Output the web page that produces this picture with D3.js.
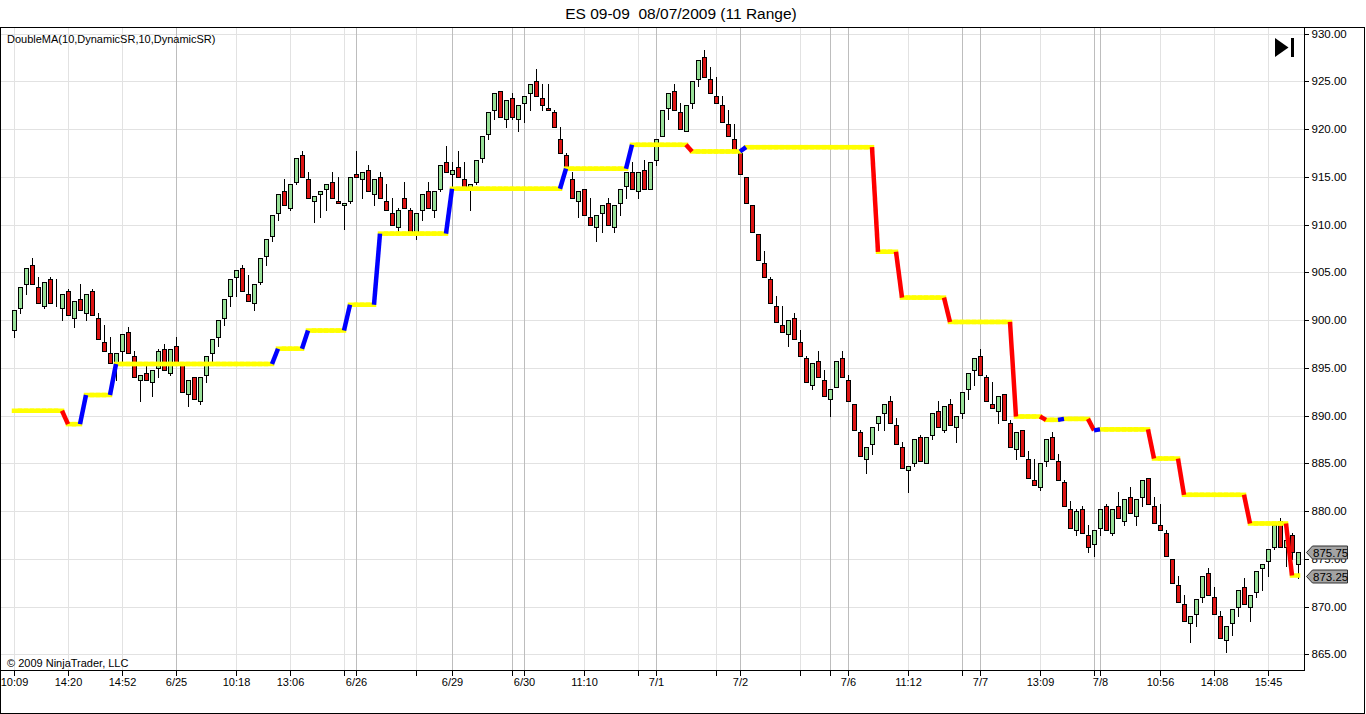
<!DOCTYPE html>
<html><head><meta charset="utf-8">
<script src="https://cdn.jsdelivr.net/npm/d3@7"></script>
<style>body{margin:0;background:#fff;overflow:hidden}svg{display:block;font-family:Arial,"Liberation Sans",sans-serif}</style>
</head><body><svg id="c" width="1366" height="714"></svg>
<script>
const opens=[
899.0,901.25,903.75,905.75,903.5,901.5,904.25,901.5,901.25,903.0,
900.25,902.25,900.75,903.0,900.25,897.75,896.5,895.5,896.75,898.75,
896.25,893.75,894.5,893.5,895.0,897.0,894.5,897.25,895.5,892.25,
894.0,891.5,894.25,896.5,898.25,900.25,902.5,904.5,905.5,902.75,
901.75,904.0,906.75,908.75,911.25,913.5,911.75,914.5,917.25,914.75,
912.5,913.25,913.75,914.5,912.5,912.0,912.5,915.25,914.75,915.75,
913.25,915.0,912.5,911.25,909.75,912.75,911.5,909.25,911.5,913.5,
911.5,913.75,916.5,915.25,916.0,914.75,913.75,914.5,917.0,919.5,
922.0,924.0,921.0,923.25,921.0,922.75,923.75,925.0,923.25,922.25,
921.75,919.0,917.25,914.75,912.5,913.75,910.75,909.75,911.25,912.25,
909.75,912.25,914.0,915.5,913.5,915.75,913.75,916.75,919.25,922.25,
924.0,921.75,919.75,922.75,925.25,927.5,925.25,923.5,922.5,920.5,
919.0,917.5,915.0,912.0,909.0,906.0,904.25,901.5,899.5,898.5,
900.25,897.75,896.0,893.25,895.75,893.75,891.75,893.0,896.0,893.75,
891.25,888.25,885.5,887.0,889.25,890.25,891.5,889.0,886.75,884.25,
885.0,887.75,885.0,888.0,890.5,888.5,891.25,888.75,890.25,892.75,
894.75,896.25,894.0,891.25,890.5,892.25,889.25,886.5,888.5,885.5,
883.25,882.5,885.25,887.75,885.25,883.0,880.25,878.0,880.25,877.5,
876.5,878.25,880.5,877.75,880.5,879.0,881.5,879.5,881.5,883.5,
880.5,878.5,877.75,875.0,872.25,870.25,868.25,869.25,871.0,873.5,
871.0,869.0,866.5,868.25,870.0,872.0,870.0,871.5,874.0,874.75,
876.25,879.0,876.25,877.5,874.5];
const highs=[
901.0,903.5,905.5,906.5,904.5,904.0,904.5,904.25,902.75,903.25,
902.0,903.75,902.75,903.25,900.75,899.5,898.25,896.5,898.5,899.25,
896.75,894.25,895.5,894.75,897.0,897.5,897.0,898.25,895.5,893.75,
894.0,894.0,896.25,898.0,900.0,902.25,904.25,905.25,905.75,904.75,
903.75,906.5,908.5,911.0,913.25,914.75,914.25,917.0,917.75,915.5,
913.0,913.5,914.25,915.5,915.0,912.25,915.0,917.75,915.5,916.25,
914.75,915.5,914.25,912.75,911.75,914.5,911.75,911.25,913.25,914.5,
913.5,916.25,918.25,916.5,917.75,916.5,914.25,916.75,919.25,921.75,
923.75,924.0,923.0,923.75,922.5,923.5,924.75,926.25,924.75,924.75,
922.0,920.25,917.5,915.5,913.5,913.75,912.75,911.0,912.0,912.75,
912.0,913.75,915.5,916.5,915.5,916.75,916.5,919.0,922.0,923.75,
924.75,922.75,922.5,925.0,927.25,928.25,926.5,925.5,923.5,922.0,
920.5,917.75,915.0,912.0,909.0,907.25,904.5,902.5,901.5,900.0,
900.75,899.0,896.25,895.5,896.75,894.75,892.75,895.75,896.75,894.25,
891.25,888.5,886.75,888.75,890.0,891.25,892.0,889.75,887.25,884.75,
887.5,888.0,887.75,890.25,891.5,891.0,891.75,890.0,892.5,894.5,
896.0,897.0,894.25,893.5,892.0,892.25,889.5,888.25,888.5,886.25,
885.5,885.0,887.5,888.25,886.0,883.25,881.0,880.25,880.5,878.5,
878.0,880.25,880.75,880.25,882.0,881.25,882.5,881.25,883.25,883.5,
881.5,880.75,878.0,875.0,873.25,871.25,869.0,870.75,873.25,874.0,
872.0,869.5,868.0,869.75,871.75,873.0,871.25,873.75,874.5,876.0,
878.5,879.25,877.25,877.75,875.75];
const lows=[
898.25,900.75,902.75,903.75,901.75,901.25,901.75,901.5,900.0,900.5,
899.25,901.0,900.0,900.5,898.0,896.75,895.5,893.75,895.75,896.5,
894.0,891.5,893.75,892.0,894.0,894.75,894.25,895.25,892.5,891.0,
891.75,891.25,893.5,895.5,897.25,899.5,901.5,902.5,903.0,902.0,
901.0,903.75,905.75,908.25,910.5,912.0,911.5,914.25,915.0,912.75,
910.25,910.75,911.5,912.75,912.25,909.5,912.25,915.0,912.75,913.5,
912.0,912.75,911.5,910.0,909.25,911.75,909.0,908.5,910.5,911.75,
910.75,913.5,915.5,913.75,915.0,913.75,911.5,914.25,916.5,919.0,
921.0,921.25,920.25,921.0,919.75,920.75,922.0,923.5,922.0,922.0,
920.25,917.5,915.75,912.75,910.75,911.0,910.0,908.25,909.25,910.0,
909.25,911.0,912.75,913.75,912.75,913.75,913.75,916.25,919.25,921.0,
922.0,920.0,919.75,922.25,924.5,925.5,923.75,922.75,920.75,919.25,
917.75,915.25,912.25,909.25,906.25,904.5,901.75,899.75,898.75,897.25,
898.0,896.25,893.5,892.75,894.0,892.0,890.0,893.0,894.0,891.5,
888.5,885.75,884.0,886.0,888.5,888.5,889.25,887.0,884.5,882.0,
884.75,885.25,885.0,887.5,888.75,888.25,889.0,887.25,889.75,891.75,
893.25,894.25,891.5,890.75,889.25,889.5,886.75,885.5,885.75,883.5,
882.75,882.25,884.75,885.5,883.25,880.5,878.25,877.5,877.75,875.75,
875.25,877.5,878.0,877.5,879.25,878.5,879.75,878.5,880.5,880.75,
878.75,878.0,875.25,872.5,870.5,868.5,866.25,868.0,870.5,871.25,
869.25,866.75,865.25,867.0,869.0,870.25,868.5,871.0,871.75,873.25,
876.0,876.25,874.25,875.0,873.0];
const closes=[
901.0,903.5,905.5,903.75,901.75,904.0,901.75,901.5,902.75,900.5,
902.0,901.0,902.75,900.5,898.0,896.75,895.5,896.5,898.5,896.5,
894.0,894.25,893.75,894.75,896.75,894.75,897.0,895.25,892.5,893.75,
891.75,894.0,896.25,898.0,900.0,902.25,904.25,905.25,903.0,902.0,
903.75,906.5,908.5,911.0,913.25,912.0,914.25,917.0,915.0,912.75,
913.0,913.5,914.25,912.75,912.25,912.25,915.0,915.0,915.5,913.5,
914.75,912.75,911.5,910.0,911.5,911.75,909.25,911.25,913.25,911.75,
913.5,916.25,915.5,915.75,915.0,913.75,914.25,916.75,919.25,921.75,
923.75,921.25,923.0,921.25,922.5,923.5,924.75,923.5,922.5,922.0,
920.25,917.5,916.0,912.75,913.5,911.0,910.0,911.0,912.0,910.0,
912.0,913.75,915.5,913.75,915.5,913.75,916.5,919.0,922.0,923.75,
922.0,920.0,922.5,925.0,927.25,925.5,923.75,922.75,920.75,919.25,
917.75,915.25,912.25,909.25,906.25,904.5,901.75,899.75,898.75,900.0,
898.0,896.25,893.5,895.5,894.0,892.0,892.75,895.75,894.0,891.5,
888.5,885.75,886.75,888.75,890.0,891.25,889.25,887.0,884.5,884.75,
887.5,885.25,887.75,890.25,888.75,891.0,889.0,890.0,892.5,894.5,
896.0,894.25,891.5,890.75,892.0,889.5,886.75,888.25,885.75,883.5,
882.75,885.0,887.5,885.5,883.25,880.5,878.25,880.0,877.75,876.25,
878.0,880.25,878.0,880.25,879.25,881.25,879.75,881.25,883.25,880.75,
878.75,878.0,875.25,872.5,870.5,868.5,869.0,870.75,873.25,871.25,
869.25,866.75,868.0,869.75,871.75,870.25,871.25,873.75,874.5,876.0,
878.5,876.25,877.0,875.75,875.75];
// DoubleMA step values: [first bar index, value]
const maSteps=[[0,890.5],[9,889.1],[12,892.15],[17,895.4],[44,897.0],[49,898.9],[56,901.6],[61,909.05],[73,913.75],[92,915.85],[103,918.35],[113,917.65],[122,918.1],[144,907.15],[148,902.35],[156,899.8],[167,889.9],[172,889.55],[175,889.65],[180,888.45],[181,888.55],[190,885.5],[195,881.7],[206,878.7],[213,873.25]];
const tickIdx=[0,9,18,27,37,46,55,57,67,73,83,85,95,104,107,117,121,131,136,139,149,158,161,171,180,181,191,200,209];
const tickLabels=["10:09","14:20","14:52","6/25","10:18","13:06","","6/26","","6/29","","6/30","11:10","","7/1","","7/2","","","7/6","11:12","","7/7","13:09","","7/8","10:56","14:08","15:45"];
const tickSession=[0,0,0,1,0,0,0,1,0,1,1,1,0,0,1,0,1,0,1,1,0,1,1,0,1,1,0,0,0];
const yTicks=[865,870,875,880,885,890,895,900,905,910,915,920,925,930];
const lastClose=875.75, lastMA=873.25;
const titleText="ES 09-09  08/07/2009 (11 Range)";
const indicatorText="DoubleMA(10,DynamicSR,10,DynamicSR)";
const copyText="\u00A9 2009 NinjaTrader, LLC";

const n=closes.length;
const ma=[];
{let s=0;for(let i=0;i<n;i++){while(s+1<maSteps.length&&maSteps[s+1][0]<=i)s++;ma.push(maSteps[s][1]);}}

const svg=d3.select('#c');
const L=0,R=1304,T=27,B=670;
const x=d3.scaleLinear().domain([0,n-1]).range([14,1298]);
const y=d3.scaleLinear().domain([865,930]).range([654.3,33.55]);
const cr=v=>Math.round(v)+0.5;

svg.append('rect').attr('width',1366).attr('height',714).attr('fill','#fff');
// title
svg.append('text').attr('x',681).attr('y',19).attr('text-anchor','middle').attr('font-size',15.5)
 .style('white-space','pre').attr('xml:space','preserve').text(titleText);

const g=svg.append('g');
// horizontal grid
g.selectAll('line.hg').data(yTicks).join('line').attr('class','hg')
 .attr('x1',L).attr('x2',R).attr('y1',d=>cr(y(d))).attr('y2',d=>cr(y(d)))
 .attr('stroke','#e2e2e2').attr('stroke-width',1);
// vertical grid
g.selectAll('line.vg').data(tickIdx).join('line').attr('class','vg')
 .attr('x1',d=>cr(x(d))).attr('x2',d=>cr(x(d))).attr('y1',T).attr('y2',B)
 .attr('stroke',(d,i)=>tickSession[i]?'#bdbdbd':'#e2e2e2').attr('stroke-width',1);

// candles
const idx=d3.range(n);
const cg=g.append('g').attr('shape-rendering','crispEdges');
cg.selectAll('line.wk').data(idx).join('line').attr('class','wk')
 .attr('x1',i=>Math.round(x(i))+0.5).attr('x2',i=>Math.round(x(i))+0.5)
 .attr('y1',i=>Math.round(y(highs[i]))).attr('y2',i=>Math.round(y(lows[i]))+1)
 .attr('stroke','#000');
cg.selectAll('rect.bd').data(idx).join('rect').attr('class','bd')
 .attr('x',i=>Math.round(x(i))-1.5).attr('width',4)
 .attr('y',i=>Math.round(y(Math.max(opens[i],closes[i])))+0.5)
 .attr('height',i=>Math.max(0,Math.round(y(Math.min(opens[i],closes[i])))-Math.round(y(Math.max(opens[i],closes[i])))))
 .attr('fill',i=>closes[i]>opens[i]?'#98e098':(closes[i]<opens[i]?'#dc1414':'#000'))
 .attr('stroke','#000').attr('stroke-width',1);

// MA line segments
const segs=d3.range(n-1).map(i=>({i,a:ma[i],b:ma[i+1]}));
const mg=g.append('g');
const colorOf=s=>s.b>s.a?'#0000ff':(s.b<s.a?'#ff0000':'#ffff00');
mg.selectAll('line.my').data(segs.filter(s=>s.a===s.b)).join('line').attr('class','my')
 .attr('x1',s=>x(s.i)).attr('x2',s=>x(s.i+1)).attr('y1',s=>y(s.a)).attr('y2',s=>y(s.b))
 .attr('stroke',colorOf).attr('stroke-width',4.5).attr('stroke-linecap','square');
mg.selectAll('line.mc').data(segs.filter(s=>s.a!==s.b)).join('line').attr('class','mc')
 .attr('x1',s=>x(s.i)).attr('x2',s=>x(s.i+1)).attr('y1',s=>y(s.a)).attr('y2',s=>y(s.b))
 .attr('stroke',colorOf).attr('stroke-width',4.5).attr('stroke-linecap','butt');

// frame
const fg=svg.append('g').attr('shape-rendering','crispEdges');
fg.append('rect').attr('x',0.5).attr('y',T+0.5).attr('width',1364).attr('height',713-T-0.5).attr('fill','none').attr('stroke','#000');
fg.append('line').attr('x1',R+0.5).attr('x2',R+0.5).attr('y1',T).attr('y2',B+1).attr('stroke','#000');
fg.append('line').attr('x1',0).attr('x2',R+1).attr('y1',B+0.5).attr('y2',B+0.5).attr('stroke','#000');

// y axis
const ya=svg.append('g').attr('transform',`translate(${R+0.5},0)`);
ya.call(d3.axisRight(y).tickValues(yTicks).tickSize(4).tickPadding(3).tickFormat(d3.format('.2f')));
ya.select('.domain').remove();
ya.selectAll('.tick line').attr('stroke','#000').attr('shape-rendering','crispEdges');
ya.selectAll('.tick text').attr('font-size',11.5).attr('font-family','Arial,"Liberation Sans",sans-serif').attr('fill','#000');

// x axis
const xa=svg.append('g').attr('transform',`translate(0,${B+0.5})`);
xa.call(d3.axisBottom(x).tickValues(tickIdx).tickSize(5).tickPadding(3).tickFormat((d,i)=>tickLabels[i]));
xa.select('.domain').remove();
xa.selectAll('.tick line').attr('stroke','#000').attr('shape-rendering','crispEdges');
xa.selectAll('.tick text').attr('font-size',11).attr('font-family','Arial,"Liberation Sans",sans-serif').attr('fill','#000');

// texts
svg.append('text').attr('x',7).attr('y',43).attr('font-size',11).text(indicatorText);
svg.append('text').attr('x',7).attr('y',667).attr('font-size',11).text(copyText);

// go-to-end icon
svg.append('path').attr('d','M1275,38L1288.5,47.5L1275,57Z').attr('fill','#000');
svg.append('rect').attr('x',1291).attr('y',38).attr('width',3).attr('height',19).attr('fill','#000');

// price markers
[lastClose,lastMA].forEach(v=>{
  const yc=Math.round(y(v))+0.5;
  svg.append('path').attr('d',`M1306.5,${yc}L1312.5,${yc-6.5}L1347.5,${yc-6.5}L1347.5,${yc+6.5}L1312.5,${yc+6.5}Z`)
   .attr('fill','#a3a3a3').attr('stroke','#303030').attr('stroke-width',1);
  svg.append('text').attr('x',1313).attr('y',yc+4).attr('font-size',11.5).attr('fill','#000').text(d3.format('.2f')(v));
});
</script></body></html>
